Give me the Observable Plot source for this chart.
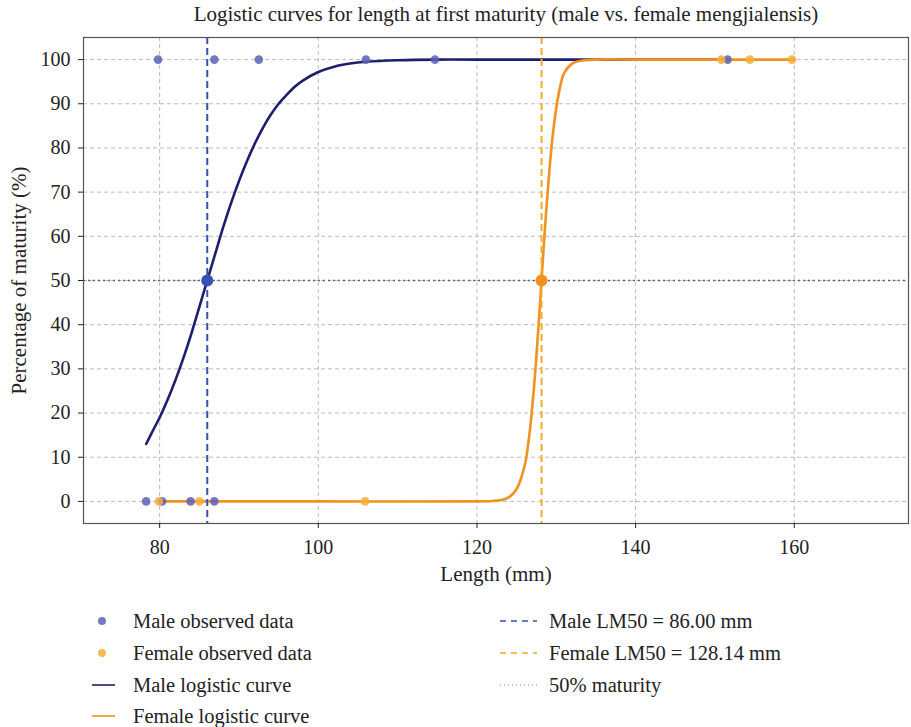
<!DOCTYPE html>
<html>
<head>
<meta charset="utf-8">
<script src="https://cdn.jsdelivr.net/npm/d3@7"></script>
<script src="https://cdn.jsdelivr.net/npm/@observablehq/plot@0.6"></script>
<style>
  body { margin: 0; background: #fff; color: #222; font-family: "Liberation Serif", serif; }
  #wrap { position: relative; width: 911px; height: 727px; }
  #title { position: absolute; top: 2px; left: 0; width: 911px; text-align: center; font-size: 21px; padding-left: 101px; box-sizing: border-box; font-family: "Liberation Serif", serif; }
  #chart { position: absolute; top: 0; left: 0; }
  #chart svg, #chart svg text { font-family: "Liberation Serif", serif; }
  .leg { position: absolute; font-size: 20.5px; height: 24px; line-height: 24px; white-space: nowrap; font-family: "Liberation Serif", serif; }
  .leg svg { position: absolute; top: 0; }
</style>
</head>
<body>
<div id="wrap">
  <div id="chart"></div>
  <div id="title">Logistic curves for length at first maturity (male vs. female mengjialensis)</div>
  <div id="legend"></div>
</div>
<script>
// ---- Data ----
const xTicks = [80, 100, 120, 140, 160];
const yTicks = [0, 10, 20, 30, 40, 50, 60, 70, 80, 90, 100];

const maleObsLength   = [79.8, 86.9, 92.5, 106.0, 114.7, 151.6, 78.3, 80.3, 83.9, 86.9];
const maleObsMaturity = [100, 100, 100, 100, 100, 100, 0, 0, 0, 0];

const femaleObsLength   = [79.9, 85.0, 105.9, 150.8, 154.4, 159.7];
const femaleObsMaturity = [0, 0, 0, 100, 100, 100];

const maleCurveLength   = [78.3, 79, 80, 81, 82, 83, 84, 85, 86, 87, 88, 89, 90, 91, 92, 93, 94, 95, 96, 97, 98, 100, 102, 104, 106, 110, 115, 120, 130, 140, 151.6];
const maleCurveMaturity = [13, 15.5, 19, 23, 27.5, 32.5, 38, 44, 50, 56, 62, 67.5, 72.5, 77, 81, 84.5, 87.5, 90, 92, 93.8, 95.2, 97.2, 98.4, 99.1, 99.5, 99.85, 100, 100, 100, 100, 100];

const femaleCurveLength   = [80, 100, 120, 122, 123, 124, 125, 126, 126.5, 127, 127.5, 128.14, 128.5, 129, 129.5, 130, 130.5, 131, 132, 133, 135, 140, 150, 160];
const femaleCurveMaturity = [0, 0, 0, 0.1, 0.3, 0.9, 2.8, 8, 13.5, 22, 33, 50, 60, 72, 82, 89, 94, 97, 99.1, 99.7, 100, 100, 100, 100];

const maleLM50 = 86.00;
const femaleLM50 = 128.14;
const maturityRef = 50;

const legendLeft = ["Male observed data", "Female observed data", "Male logistic curve", "Female logistic curve"];
const legendRight = ["Male LM50 = 86.00 mm", "Female LM50 = 128.14 mm", "50% maturity"];

// ---- Colours ----
const C = {
  maleCurve: "#1e1e6c",
  malePts: "#5a60b6",
  maleRule: "#3a4eb8",
  femaleCurve: "#f0921f",
  femalePts: "#f6ad3c",
  femaleRule: "#f4aa2a",
  ref: "#666"
};

const maleObs = maleObsLength.map((x, i) => ({x, y: maleObsMaturity[i]}));
const femaleObs = femaleObsLength.map((x, i) => ({x, y: femaleObsMaturity[i]}));
const maleCurve = maleCurveLength.map((x, i) => ({x, y: maleCurveMaturity[i]}));
const femaleCurve = femaleCurveLength.map((x, i) => ({x, y: femaleCurveMaturity[i]}));

const plot = Plot.plot({
  width: 911,
  height: 590,
  marginTop: 37,
  marginLeft: 83,
  marginRight: 3,
  marginBottom: 67,
  style: {fontFamily: "Liberation Serif, serif", fontSize: "20px", color: "#222", background: "white"},
  x: {domain: [70.4, 174.4]},
  y: {domain: [-5, 105]},
  marks: [
    Plot.gridX(xTicks, {stroke: "#bbb", strokeOpacity: 1, strokeDasharray: "4,3"}),
    Plot.gridY(yTicks, {stroke: "#bbb", strokeOpacity: 1, strokeDasharray: "4,3"}),
    Plot.ruleY([maturityRef], {stroke: C.ref, strokeWidth: 1.5, strokeDasharray: "2,3"}),
    Plot.line(maleCurve, {x: "x", y: "y", stroke: C.maleCurve, strokeWidth: 2.6, curve: "catmull-rom"}),
    Plot.line(femaleCurve, {x: "x", y: "y", stroke: C.femaleCurve, strokeWidth: 2.6, curve: "catmull-rom"}),
    Plot.ruleX([maleLM50], {stroke: C.maleRule, strokeWidth: 2, strokeDasharray: "7,4"}),
    Plot.ruleX([femaleLM50], {stroke: C.femaleRule, strokeWidth: 2, strokeDasharray: "7,4"}),
    Plot.dot(maleObs, {x: "x", y: "y", r: 4.3, fill: C.malePts, fillOpacity: 0.85, stroke: "none"}),
    Plot.dot(femaleObs, {x: "x", y: "y", r: 4.3, fill: C.femalePts, fillOpacity: 0.85, stroke: "none"}),
    Plot.dot([{x: maleLM50, y: maturityRef}], {x: "x", y: "y", r: 6, fill: C.maleRule, stroke: "none"}),
    Plot.dot([{x: femaleLM50, y: maturityRef}], {x: "x", y: "y", r: 6, fill: C.femaleCurve, stroke: "none"}),
    Plot.frame({stroke: "#555", strokeWidth: 1.2}),
    Plot.axisX({ticks: xTicks, tickSize: 5, tickPadding: 11, label: null, fontSize: 20}),
    Plot.axisY({ticks: yTicks, tickSize: 5, tickPadding: 8, label: null, fontSize: 20}),
    Plot.axisX({ticks: [], tickSize: 0, label: "Length (mm)", labelAnchor: "center", labelArrow: "none", labelOffset: 57, fontSize: 21}),
    Plot.axisY({ticks: [], tickSize: 0, label: "Percentage of maturity (%)", labelAnchor: "center", labelArrow: "none", labelOffset: 72, fontSize: 21})
  ]
});
document.getElementById("chart").appendChild(plot);

// ---- Legend (HTML) ----
const legend = document.getElementById("legend");
const rowsY = [609, 641, 673, 704];
const symLeft = [
  `<svg width="30" height="24" style="left:0"><circle cx="7" cy="12" r="4" fill="${C.malePts}" fill-opacity="0.85"/></svg>`,
  `<svg width="30" height="24" style="left:0"><circle cx="7" cy="12" r="4" fill="${C.femalePts}" fill-opacity="0.85"/></svg>`,
  `<svg width="30" height="24" style="left:-5px"><line x1="2" x2="25" y1="12" y2="12" stroke="${C.maleCurve}" stroke-width="1.6"/></svg>`,
  `<svg width="30" height="24" style="left:-5px"><line x1="2" x2="25" y1="12" y2="12" stroke="${C.femaleCurve}" stroke-width="1.6"/></svg>`
];
legendLeft.forEach((t, i) => {
  const d = document.createElement("div");
  d.className = "leg";
  d.style.left = "95px";
  d.style.top = rowsY[i] + "px";
  d.innerHTML = symLeft[i] + `<span style="position:absolute;left:38px;top:0">${t}</span>`;
  legend.appendChild(d);
});
const symRight = [
  `<svg width="40" height="24" style="left:0"><line x1="1" x2="38" y1="12" y2="12" stroke="${C.maleRule}" stroke-width="1.4" stroke-dasharray="6,5"/></svg>`,
  `<svg width="40" height="24" style="left:0"><line x1="1" x2="38" y1="12" y2="12" stroke="${C.femaleRule}" stroke-width="1.4" stroke-dasharray="6,5"/></svg>`,
  `<svg width="40" height="24" style="left:0"><line x1="1" x2="38" y1="12" y2="12" stroke="#888" stroke-width="1" stroke-dasharray="1,3"/></svg>`
];
legendRight.forEach((t, i) => {
  const d = document.createElement("div");
  d.className = "leg";
  d.style.left = "499px";
  d.style.top = rowsY[i] + "px";
  d.innerHTML = symRight[i] + `<span style="position:absolute;left:50px;top:0">${t}</span>`;
  legend.appendChild(d);
});
</script>
</body>
</html>
